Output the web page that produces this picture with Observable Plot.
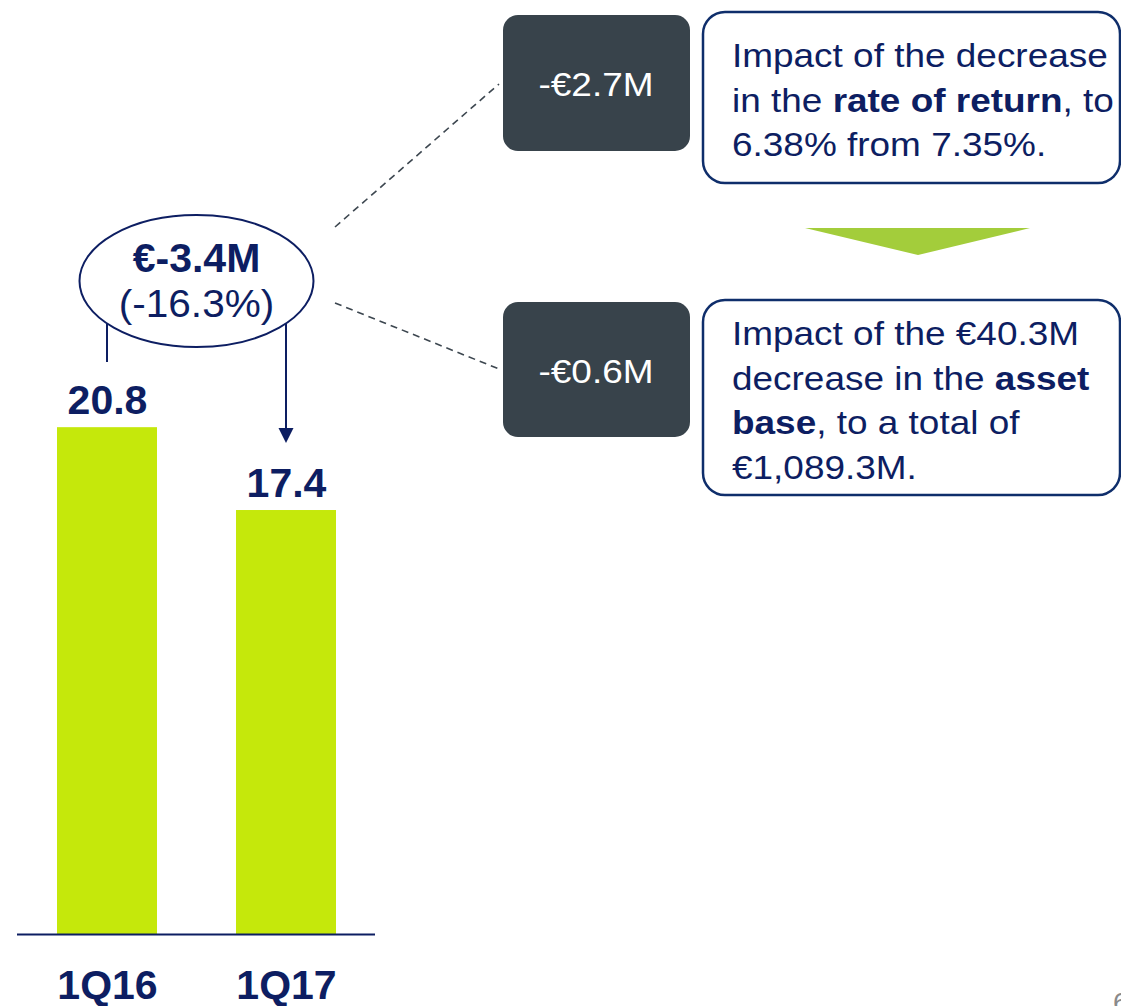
<!DOCTYPE html>
<html>
<head>
<meta charset="utf-8">
<script src="https://cdn.jsdelivr.net/npm/d3@7"></script>
<script src="https://cdn.jsdelivr.net/npm/@observablehq/plot@0.6"></script>
<style>
  html, body { margin: 0; padding: 0; background: #ffffff; }
  #chart { width: 1121px; height: 1006px; overflow: hidden; }
</style>
</head>
<body>
<div id="chart"></div>
<script>
// ---- data ----
const quarters = ["1Q16", "1Q17"];
const values = [20.8, 17.4];
const changeLabel = "€-3.4M";
const changePct = "(-16.3%)";
const impactValues = ["-€2.7M", "-€0.6M"];
const impactText1 = [
  [["Impact of the decrease", false]],
  [["in the ", false], ["rate of return", true], [", to", false]],
  [["6.38% from 7.35%.", false]]
];
const impactText2 = [
  [["Impact of the €40.3M", false]],
  [["decrease in the ", false], ["asset", true]],
  [["base", true], [", to a total of", false]],
  [["€1,089.3M.", false]]
];
const pageNumber = "6";

const data = quarters.map((q, i) => ({q, v: values[i]}));

const NAVY = "#0d1e62";
const LIME = "#c5e80b";
const FONT = "'Liberation Sans', Arial, Helvetica, sans-serif";

const plot = Plot.plot({
  width: 1121,
  height: 1006,
  marginLeft: 17,
  marginRight: 746,
  marginBottom: 72,
  marginTop: 203,
  style: {fontFamily: FONT, background: "#ffffff", overflow: "visible"},
  x: {domain: quarters, paddingInner: 0.444, paddingOuter: 0.217, axis: null},
  y: {domain: [0, 30], axis: null},
  marks: [
    Plot.barY(data, {x: "q", y: "v", fill: LIME}),
    Plot.ruleY([0], {stroke: NAVY, strokeWidth: 2}),
    Plot.text(data, {x: "q", y: "v", text: d => d.v.toFixed(1), dy: -14, lineAnchor: "bottom",
      fontSize: 41, fontWeight: "bold", fill: NAVY}),
    Plot.text(data, {x: "q", y: () => 0, text: "q", dy: 64, lineAnchor: "bottom",
      fontSize: 41, fontWeight: "bold", fill: NAVY})
  ]
});

document.getElementById("chart").appendChild(plot);

// ---- annotations (positioned from the plot's scales where they relate to data) ----
const xs = plot.scale("x");
const bw = xs.bandwidth;
const c1 = xs.apply(quarters[0]) + bw / 2;
const c2 = xs.apply(quarters[1]) + bw / 2;
const svg = d3.select(plot);
const g = svg.append("g").attr("font-family", FONT).attr("text-anchor", "start");

// ellipse with change
const ecx = (c1 + c2) / 2, ecy = 281, erx = 117, ery = 66;
const ellY = x => ecy + ery * Math.sqrt(Math.max(0, 1 - ((x - ecx) / erx) ** 2));
g.append("line").attr("x1", c1).attr("x2", c1).attr("y1", ellY(c1)).attr("y2", 362)
  .attr("stroke", NAVY).attr("stroke-width", 2);
const arrowTip = 443;
g.append("line").attr("x1", c2).attr("x2", c2).attr("y1", ellY(c2)).attr("y2", arrowTip - 12)
  .attr("stroke", NAVY).attr("stroke-width", 2);
g.append("path").attr("d", `M${c2 - 7.5},${arrowTip - 15} L${c2 + 7.5},${arrowTip - 15} L${c2},${arrowTip} Z`)
  .attr("fill", NAVY);
g.append("ellipse").attr("cx", ecx).attr("cy", ecy).attr("rx", erx).attr("ry", ery)
  .attr("fill", "#ffffff").attr("stroke", NAVY).attr("stroke-width", 2);
g.append("text").attr("x", ecx).attr("y", 272).attr("text-anchor", "middle")
  .attr("font-size", 41).attr("font-weight", "bold").attr("fill", NAVY).text(changeLabel);
g.append("text").attr("transform", `translate(${ecx},317) scale(1.04,1)`).attr("text-anchor", "middle")
  .attr("font-size", 39).attr("fill", NAVY).text(changePct);

// dashed connectors
const dashC = "#3d4750";
[[335, 227, 499, 84], [335, 303, 499, 369]].forEach(([x1, y1, x2, y2]) => {
  g.append("line").attr("x1", x1).attr("y1", y1).attr("x2", x2).attr("y2", y2)
    .attr("stroke", dashC).attr("stroke-width", 1.6).attr("stroke-dasharray", "7,5");
});

// dark value boxes
const darkBoxes = [{y: 15, h: 136, base: 96}, {y: 302, h: 135, base: 383}];
darkBoxes.forEach((b, i) => {
  g.append("rect").attr("x", 503).attr("y", b.y).attr("width", 187).attr("height", b.h)
    .attr("rx", 15).attr("fill", "#38434b");
  g.append("text").attr("transform", `translate(596,${b.base}) scale(1.12,1)`)
    .attr("text-anchor", "middle").attr("font-size", 33).attr("fill", "#ffffff")
    .text(impactValues[i]);
});

// outlined explanation boxes
const boxes = [{y: 12, h: 171, base: 67, lines: impactText1}, {y: 300, h: 195, base: 345, lines: impactText2}];
boxes.forEach(b => {
  g.append("rect").attr("x", 703).attr("y", b.y).attr("width", 417).attr("height", b.h)
    .attr("rx", 22).attr("fill", "none").attr("stroke", "#0f2e6b").attr("stroke-width", 2.5);
  b.lines.forEach((parts, li) => {
    const t = g.append("text").attr("transform", `translate(732,${b.base + li * 44.5}) scale(1.12,1)`)
      .attr("text-anchor", "start").attr("font-size", 33).attr("fill", NAVY);
    parts.forEach(([s, bold]) => {
      t.append("tspan").attr("font-weight", bold ? "bold" : "normal").text(s);
    });
  });
});

// green down triangle
g.append("path").attr("d", "M805,228 L1030,228 L918,255 Z").attr("fill", "#a3cd3b");

// page number (cut off at the edge, as in the slide)
g.append("text").attr("x", 1113).attr("y", 1012).attr("text-anchor", "start")
  .attr("font-size", 28).attr("fill", "#8a8a8a").text(pageNumber);
</script>
</body>
</html>
